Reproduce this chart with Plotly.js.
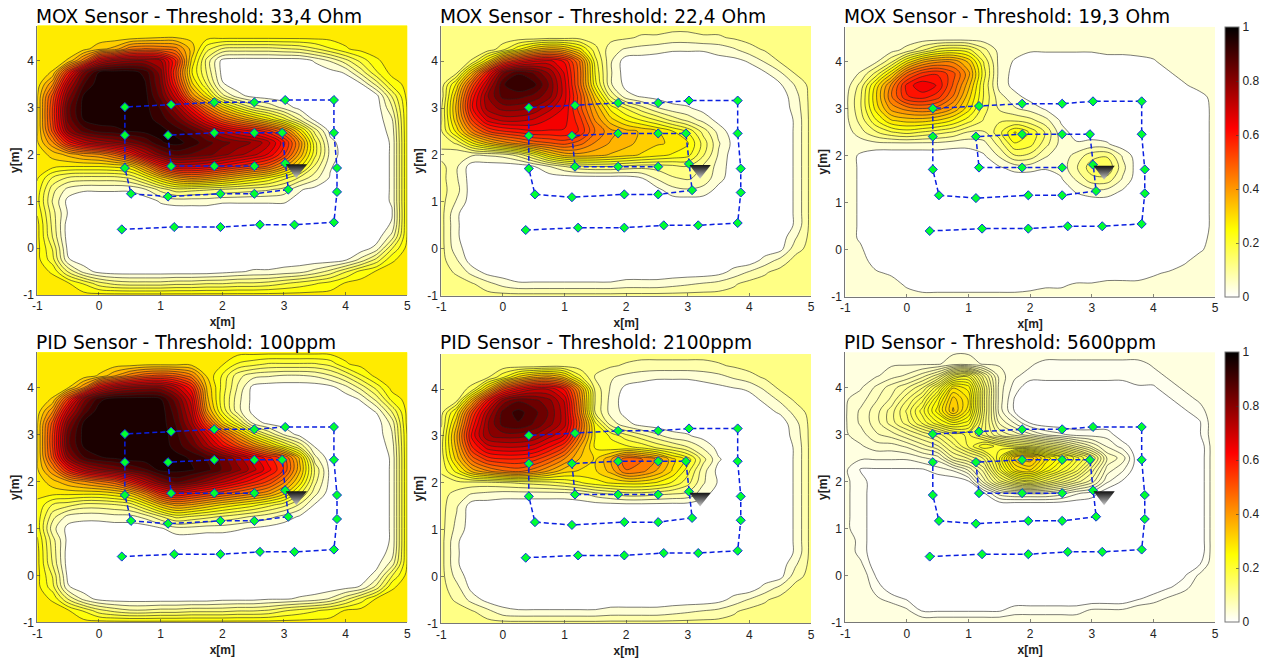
<!DOCTYPE html>
<html><head><meta charset="utf-8">
<script src="https://cdn.plot.ly/plotly-3.0.1.min.js"></script>
<style>html,body{margin:0;padding:0;background:#fff}</style></head>
<body><div id="chart" style="width:1266px;height:662px"></div>
<script>
// grid coordinates in metres
const xGrid = [-1,-.75,-.5,-.25,0,.25,.5,.75,1,1.25,1.5,1.75,2,2.25,2.5,2.75,3,3.25,3.5,3.75,4,4.25,4.5,4.75,5];
const yGridTopDown = [4.75,4.5,4.25,4,3.75,3.5,3.25,3,2.75,2.5,2.25,2,1.75,1.5,1.25,1,.75,.5,.25,0,-.25,-.5,-.75,-1];
// normalised concentration x100, rows from y=4.75 down to y=-1
const moxA = [
[28,28,28,28,28,28,28,28,28,28,28,28,28,28,28,28,28,28,28,28,28,28,28,28,28],
[28,28,28,28,28,28,28,29,30,30,29,28,28,28,28,28,28,28,28,28,28,28,28,28,28],
[28,28,28,29,33,36,45,47,46,44,33,20,14,13,13,13,14,15,18,22,26,28,28,28,28],
[28,28,31,45,68,75,78,78,75,58,30,13,1,0,0,0,0,0,3,7,13,20,26,28,28],
[28,31,58,82,95,97,97,93,80,54,27,14,1,0,0,0,0,0,0,1,3,12,22,28,28],
[28,42,72,90,97,98,98,95,82,58,32,18,3,0,0,0,0,0,0,0,0,2,12,24,28],
[30,52,80,95,98,98,98,96,85,68,42,28,12,4,1,0,0,0,0,0,0,0,1,15,28],
[30,55,85,96,98,98,98,96,90,78,62,45,32,22,14,10,5,1,0,0,0,0,0,10,27],
[30,55,84,95,97,97,97,96,93,86,75,62,50,42,35,28,20,10,1,0,0,0,0,6,27],
[30,52,78,88,92,93,95,96,96,93,88,80,72,66,62,56,46,30,13,1,0,0,0,4,27],
[30,42,60,70,75,78,82,87,94,96,93,88,84,81,78,72,60,42,20,4,0,0,0,3,27],
[28,32,36,40,42,48,58,72,82,88,86,84,80,76,72,66,55,38,20,5,0,0,0,3,27],
[27,28,27,27,27,28,30,42,58,68,68,66,62,58,54,50,40,28,14,3,0,0,0,3,27],
[27,18,14,13,13,13,15,22,32,40,44,42,38,34,30,26,20,14,8,2,0,0,0,3,27],
[25,12,5,3,3,3,3,6,12,17,16,15,14,13,12,11,9,3,1,0,0,0,0,3,27],
[24,10,1,0,0,0,0,0,3,4,4,4,3,3,3,3,3,1,0,0,0,0,0,3,27],
[26,12,2,0,0,0,0,0,0,0,0,0,0,0,0,0,0,0,0,0,0,0,0,2,27],
[28,13,0,0,0,0,0,0,0,0,0,0,0,0,0,0,0,0,0,0,0,0,0,3,27],
[28,14,0,0,0,0,0,0,0,0,0,0,0,0,0,0,0,0,0,0,0,0,0,8,27],
[28,18,1,0,0,0,0,0,0,0,0,0,0,0,0,0,0,0,0,0,0,0,4,18,28],
[28,20,3,0,0,0,0,0,0,0,0,0,0,0,0,0,0,0,0,0,2,8,16,26,28],
[28,26,14,5,1,0,0,0,0,0,0,0,1,2,3,3,4,5,8,12,18,24,27,28,28],
[28,28,27,22,16,13,12,12,12,13,13,14,14,15,15,16,18,20,22,24,27,28,28,28,28],
[28,28,28,28,28,28,28,28,28,28,28,28,28,28,28,28,28,28,28,28,28,28,28,28,28]];
const moxB = [
[12,12,12,12,12,12,12,12,12,12,12,12,12,12,12,12,12,12,12,12,12,12,12,12,12],
[12,12,12,12,12,12,12,13,13,13,12,12,11,10,10,9,9,10,10,11,12,12,12,12,12],
[12,12,12,12,17,26,34,38,36,28,16,8,6,5,4,3,3,3,4,6,9,11,12,12,12],
[12,12,15,30,50,60,66,68,62,46,20,7,0,0,0,0,0,0,1,1,3,7,11,12,12],
[12,14,36,60,82,90,86,78,66,48,22,7,0,0,0,0,0,0,0,0,0,2,6,11,12],
[12,28,52,72,90,94,92,82,68,48,24,7,1,0,0,0,0,0,0,0,0,0,2,7,12],
[12,34,60,78,88,88,85,80,68,52,32,14,4,2,1,0,0,0,0,0,0,0,0,5,12],
[14,36,62,76,80,80,78,72,66,52,38,25,18,12,7,4,3,1,0,0,0,0,0,4,12],
[14,34,55,68,72,72,70,66,64,56,42,32,26,22,18,13,9,5,1,0,0,0,0,3,12],
[14,28,44,54,58,60,62,62,62,58,46,40,36,34,31,27,22,13,5,0,0,0,0,3,12],
[12,15,26,34,40,44,48,50,52,48,42,38,36,33,31,30,27,17,7,1,0,0,0,3,12],
[9,7,7,7,8,12,20,30,36,37,36,34,32,30,28,26,24,15,6,0,0,0,0,3,12],
[12,7,0,0,0,0,2,6,10,13,14,14,13,12,12,13,14,10,5,0,0,0,0,3,12],
[12,7,0,0,0,0,0,0,0,0,0,0,0,2,7,10,11,9,4,0,0,0,0,3,12],
[12,8,0,0,0,0,0,0,0,0,0,0,0,0,1,5,6,5,1,0,0,0,0,3,12],
[12,6,0,0,0,0,0,0,0,0,0,0,0,0,0,0,0,0,0,0,0,0,0,3,12],
[12,3,0,0,0,0,0,0,0,0,0,0,0,0,0,0,0,0,0,0,0,0,0,3,12],
[12,3,0,0,0,0,0,0,0,0,0,0,0,0,0,0,0,0,0,0,0,0,0,3,12],
[12,3,0,0,0,0,0,0,0,0,0,0,0,0,0,0,0,0,0,0,0,0,0,6,12],
[12,4,0,0,0,0,0,0,0,0,0,0,0,0,0,0,0,0,0,0,0,0,1,9,12],
[12,7,0,0,0,0,0,0,0,0,0,0,0,0,0,0,0,0,0,0,0,4,8,12,12],
[12,10,5,1,0,0,0,0,0,0,0,0,0,0,0,0,0,0,1,4,7,10,12,12,12],
[12,12,11,8,5,3,3,3,3,3,3,3,4,4,4,5,6,7,8,10,12,12,12,12,12],
[12,12,12,12,12,12,12,12,12,12,12,12,12,12,12,12,12,12,12,12,12,12,12,12,12]];
const moxC = [
[4,4,4,4,4,4,4,4,4,4,4,4,4,4,4,4,4,4,4,4,4,4,4,4,4],
[4,4,4,4,4,4,4,4,4,4,4,4,4,4,4,4,4,4,4,4,4,4,4,4,4],
[4,4,4,5,8,14,20,22,20,12,5,4,3,3,3,3,3,4,4,4,4,4,4,4,4],
[4,4,6,14,28,38,42,42,34,18,5,2,0,0,0,0,0,0,0,1,2,4,4,4,4],
[4,7,16,30,48,56,58,52,40,20,5,1,0,0,0,0,0,0,0,0,0,2,4,4,4],
[4,12,28,44,60,66,62,50,36,18,5,1,0,0,0,0,0,0,0,0,0,0,2,4,4],
[5,14,30,46,58,60,56,46,32,18,8,4,1,0,0,0,0,0,0,0,0,0,0,1,4],
[5,14,28,40,44,46,44,38,28,16,10,7,5,2,0,0,0,0,0,0,0,0,0,0,4],
[5,12,22,30,32,32,30,26,20,14,14,14,12,8,2,0,0,0,0,0,0,0,0,0,4],
[4,9,14,18,20,18,16,14,10,10,17,27,22,14,4,1,0,0,0,0,0,0,0,0,4],
[4,4,5,5,5,5,5,4,4,5,12,22,20,12,5,3,4,3,0,0,0,0,0,0,4],
[4,2,0,0,0,0,0,0,0,2,7,14,13,7,4,8,13,14,6,0,0,0,0,0,4],
[4,2,0,0,0,0,0,0,0,0,2,4,4,3,4,10,17,18,8,0,0,0,0,0,4],
[4,2,0,0,0,0,0,0,0,0,0,0,0,0,2,7,13,13,6,0,0,0,0,0,4],
[4,2,0,0,0,0,0,0,0,0,0,0,0,0,0,3,5,5,2,0,0,0,0,0,4],
[4,2,0,0,0,0,0,0,0,0,0,0,0,0,0,0,0,0,0,0,0,0,0,0,4],
[4,2,0,0,0,0,0,0,0,0,0,0,0,0,0,0,0,0,0,0,0,0,0,0,4],
[4,2,0,0,0,0,0,0,0,0,0,0,0,0,0,0,0,0,0,0,0,0,0,0,4],
[4,2,0,0,0,0,0,0,0,0,0,0,0,0,0,0,0,0,0,0,0,0,0,1,4],
[4,3,0,0,0,0,0,0,0,0,0,0,0,0,0,0,0,0,0,0,0,0,0,2,4],
[4,4,1,0,0,0,0,0,0,0,0,0,0,0,0,0,0,0,0,0,0,0,2,4,4],
[4,4,3,2,0,0,0,0,0,0,0,0,0,0,0,0,0,0,0,0,2,3,4,4,4],
[4,4,4,4,2,0,0,0,0,0,0,0,1,2,2,3,3,4,4,4,4,4,4,4,4],
[4,4,4,4,4,4,4,4,4,4,4,4,4,4,4,4,4,4,4,4,4,4,4,4,4]];
const pidA = [
[28,28,28,28,28,28,28,28,28,28,28,28,28,28,28,28,28,28,28,28,28,28,28,28,28],
[28,28,28,28,28,28,28,29,29,29,29,28,27,22,20,18,18,18,18,20,26,28,28,28,28],
[28,28,28,28,31,38,45,50,52,50,44,30,22,12,8,7,6,6,7,10,15,22,28,28,28],
[28,28,30,42,65,74,78,80,80,72,60,34,21,10,1,0,0,0,0,1,5,12,20,28,28],
[28,31,55,80,93,97,97,97,95,84,68,36,20,8,1,0,0,0,0,0,0,3,12,24,28],
[28,42,70,88,97,98,98,98,97,88,72,40,22,8,1,0,0,0,0,0,0,0,3,15,28],
[30,52,80,95,98,98,98,98,97,90,76,52,32,20,5,1,0,0,0,0,0,0,0,8,28],
[30,55,85,96,98,98,98,98,97,92,82,68,52,38,24,14,6,1,0,0,0,0,0,6,27],
[30,55,85,95,97,98,98,98,97,93,87,76,64,54,44,34,24,14,2,0,0,0,0,4,27],
[30,52,78,90,94,95,97,97,97,96,94,90,84,76,68,60,52,34,8,0,0,0,0,3,27],
[30,42,60,72,78,82,86,90,96,96,95,92,86,80,72,64,54,36,14,1,0,0,0,3,27],
[28,33,38,42,46,50,60,72,82,88,84,78,72,66,60,54,44,30,12,1,0,0,0,3,27],
[27,28,28,28,28,30,34,44,58,64,60,56,52,48,44,40,32,20,8,0,0,0,0,3,27],
[26,18,16,13,13,14,16,24,34,40,38,34,30,27,24,20,16,10,2,0,0,0,0,3,27],
[25,12,5,4,4,5,5,8,14,20,18,16,14,12,10,8,5,2,0,0,0,0,0,3,27],
[25,8,1,0,0,0,0,0,2,5,5,4,4,3,2,1,0,0,0,0,0,0,0,3,27],
[27,12,1,0,0,0,0,0,0,0,0,0,0,0,0,0,0,0,0,0,0,0,0,3,27],
[28,13,0,0,0,0,0,0,0,0,0,0,0,0,0,0,0,0,0,0,0,0,0,4,27],
[28,14,0,0,0,0,0,0,0,0,0,0,0,0,0,0,0,0,0,0,0,0,1,8,27],
[28,18,1,0,0,0,0,0,0,0,0,0,0,0,0,0,0,0,0,0,0,0,4,18,28],
[28,20,3,0,0,0,0,0,0,0,0,0,0,0,0,0,0,0,0,0,1,3,12,26,28],
[28,26,14,5,1,0,0,0,0,0,0,0,1,1,1,2,2,3,4,7,13,20,27,28,28],
[28,28,27,22,16,13,11,11,12,12,13,13,13,14,14,15,18,20,22,24,27,28,28,28,28],
[28,28,28,28,28,28,28,28,28,28,28,28,28,28,28,28,28,28,28,28,28,28,28,28,28]];
const pidB = [
[12,12,12,12,12,12,12,12,12,12,12,12,12,12,12,12,12,12,12,12,12,12,12,12,12],
[12,12,12,12,12,12,12,13,13,12,12,11,10,9,9,9,9,9,10,11,12,12,12,12,12],
[12,12,12,14,22,32,38,40,34,20,10,7,5,4,3,3,3,4,5,7,9,11,12,12,12],
[12,12,16,34,54,64,70,70,62,40,13,6,1,0,0,0,0,0,1,2,3,7,11,12,12],
[12,14,38,62,80,86,84,80,70,44,14,5,0,0,0,0,0,0,0,0,1,3,7,11,12],
[13,28,54,74,88,92,88,82,72,46,14,5,1,0,0,0,0,0,0,0,0,1,3,8,12],
[14,34,60,78,88,90,86,80,72,50,24,9,4,1,0,0,0,0,0,0,0,0,0,5,12],
[16,38,64,78,80,80,78,72,66,46,26,22,16,12,8,4,3,1,0,0,0,0,0,4,12],
[17,36,58,68,70,70,68,62,54,38,26,24,24,22,18,15,11,6,1,0,0,0,0,3,12],
[16,32,48,56,58,58,56,50,42,34,30,38,50,47,42,32,25,12,3,0,0,0,0,3,12],
[15,24,36,42,46,48,44,38,32,30,30,36,46,44,38,30,20,8,1,0,0,0,0,3,12],
[13,13,13,13,14,15,16,17,19,22,25,27,28,28,26,22,16,7,2,0,0,0,0,3,12],
[12,9,6,5,4,4,4,4,4,5,8,10,12,12,11,10,9,4,0,0,0,0,0,3,12],
[12,7,0,0,0,0,0,0,0,0,0,0,0,0,0,0,0,0,0,0,0,0,0,3,12],
[12,6,0,0,0,0,0,0,0,0,0,0,0,0,0,0,0,0,0,0,0,0,0,3,12],
[12,5,0,0,0,0,0,0,0,0,0,0,0,0,0,0,0,0,0,0,0,0,0,3,12],
[12,3,0,0,0,0,0,0,0,0,0,0,0,0,0,0,0,0,0,0,0,0,0,3,12],
[12,3,0,0,0,0,0,0,0,0,0,0,0,0,0,0,0,0,0,0,0,0,0,3,12],
[12,3,0,0,0,0,0,0,0,0,0,0,0,0,0,0,0,0,0,0,0,0,0,6,12],
[12,5,0,0,0,0,0,0,0,0,0,0,0,0,0,0,0,0,0,0,0,0,1,9,12],
[12,8,1,0,0,0,0,0,0,0,0,0,0,0,0,0,0,0,0,0,0,4,8,12,12],
[12,10,5,1,0,0,0,0,0,0,0,0,0,0,0,0,0,0,1,4,7,10,12,12,12],
[12,12,11,8,4,3,3,3,3,3,3,4,4,4,4,5,6,7,8,10,12,12,12,12,12],
[12,12,12,12,12,12,12,12,12,12,12,12,12,12,12,12,12,12,12,12,12,12,12,12,12]];
const pidC = [
[4,4,4,4,4,4,4,4,4,4,4,4,4,4,4,4,4,4,4,4,4,4,4,4,4],
[4,4,4,4,4,4,4,5,5,4,4,4,3,2,2,2,2,2,2,2,3,4,4,4,4],
[4,4,4,5,6,8,11,18,20,12,5,3,2,2,2,2,2,2,2,2,2,3,3,4,4],
[4,4,6,8,10,13,19,28,26,15,5,2,0,0,0,0,0,0,0,1,1,2,3,4,4],
[4,5,7,9,13,17,24,32,28,15,5,1,0,0,0,0,0,0,0,0,0,1,2,3,4],
[4,6,8,11,15,20,26,33,27,15,5,1,0,0,0,0,0,0,0,0,0,0,1,2,4],
[4,6,8,11,14,18,22,25,23,14,7,4,1,0,0,0,0,0,0,0,0,0,0,1,4],
[4,5,7,8,10,12,14,17,18,14,10,8,6,4,3,2,2,2,0,0,0,0,0,1,4],
[4,4,5,5,6,8,10,14,18,22,20,18,17,15,13,10,7,4,2,0,0,0,0,0,4],
[3,3,3,3,3,4,5,10,12,15,22,32,34,28,24,20,15,7,5,0,0,0,0,0,4],
[3,1,1,1,1,1,2,3,6,11,20,28,30,25,21,17,11,5,3,0,0,0,0,0,4],
[3,2,0,0,0,0,0,0,1,8,14,18,20,17,14,11,8,3,1,0,0,0,0,0,4],
[3,2,0,0,0,0,0,0,0,1,5,6,6,6,5,3,2,0,0,0,0,0,0,0,4],
[3,2,0,0,0,0,0,0,0,0,0,0,0,0,0,0,0,0,0,0,0,0,0,0,4],
[3,2,0,0,0,0,0,0,0,0,0,0,0,0,0,0,0,0,0,0,0,0,0,0,4],
[3,2,0,0,0,0,0,0,0,0,0,0,0,0,0,0,0,0,0,0,0,0,0,0,4],
[4,2,0,0,0,0,0,0,0,0,0,0,0,0,0,0,0,0,0,0,0,0,0,0,4],
[4,2,0,0,0,0,0,0,0,0,0,0,0,0,0,0,0,0,0,0,0,0,0,0,4],
[4,3,0,0,0,0,0,0,0,0,0,0,0,0,0,0,0,0,0,0,0,0,0,1,4],
[4,4,1,0,0,0,0,0,0,0,0,0,0,0,0,0,0,0,0,0,0,0,1,3,4],
[4,4,2,0,0,0,0,0,0,0,0,0,0,0,0,0,0,0,0,0,0,1,2,4,4],
[4,4,3,2,1,0,0,0,0,0,0,0,0,0,0,0,0,0,0,1,2,3,4,4,4],
[4,4,4,4,3,1,1,1,1,1,1,2,2,2,2,2,3,3,3,4,4,4,4,4,4],
[4,4,4,4,4,4,4,4,4,4,4,4,4,4,4,4,4,4,4,4,4,4,4,4,4]];
// robot path
const pathX = [.37,1.22,1.97,2.61,3.17,3.81,3.86,3.86,3.81,3.81,3.02,2.52,1.87,1.17,.42,.42,.42,.52,1.12,1.97,2.52,3.07,3.02,2.97,2.52,1.87,1.12,1.17,1.87,2.52];
const pathY = [.40,.45,.45,.50,.50,.55,1.20,1.71,2.46,3.16,3.16,3.11,3.11,3.06,3.01,2.41,1.71,1.16,1.10,1.16,1.16,1.25,1.81,2.46,2.46,2.46,2.41,1.75,1.75,1.75];
const sourceX = [3.2], sourceY = [1.69];
const titles = ['MOX Sensor - Threshold: 33,4 Ohm','MOX Sensor - Threshold: 22,4 Ohm','MOX Sensor - Threshold: 19,3 Ohm','PID Sensor - Threshold: 100ppm','PID Sensor - Threshold: 2100ppm','PID Sensor - Threshold: 5600ppm'];
const grids = [moxA,moxB,moxC,pidA,pidB,pidC];
const xTicks=[-1,0,1,2,3,4,5], xTickText=['-1','0','1','2','3','4','5'];
const yTicks=[-1,0,1,2,3,4], yTickText=['-1','0','1','2','3','4'];
const barTicks=[0,.2,.4,.6,.8,1], barTickText=['0','0.2','0.4','0.6','0.8','1'];
const hot=[[0,'#ffffff'],[.25,'#ffff00'],[.625,'#ff0000'],[1,'#000000']];
// pixel boxes: left,right,top,bottom
const boxes=[[37.3,407.3,25.5,295],[441.3,811,26,295.7],[845.3,1215,26.7,296.7],[37.3,407.3,352.3,622.3],[441.3,811,354,623.3],[845.3,1215,352.3,622.3]];
const titleTops=[27,27,27,353,353,353];
const W=1266,H=662,FONT='Liberation Sans, Arial, sans-serif';
grids.forEach((g,i)=>g.forEach((r,j)=>{if(r.length!==25)throw new Error('row '+i+'/'+j+' '+r.length)}));
const yGrid=yGridTopDown.slice().reverse();
const traces=[],layout={width:W,height:H,margin:{l:0,r:0,t:0,b:0},paper_bgcolor:'#fff',plot_bgcolor:'#fff',showlegend:false,annotations:[]};
grids.forEach((g,i)=>{
  const n=i+1,xa='x'+n,ya='y'+n,b=boxes[i];
  const fine=(i===5);
  traces.push({type:'contour',x:xGrid,y:yGrid,z:g.slice().reverse().map(r=>r.map(v=>v/100)),xaxis:xa,yaxis:ya,
    autocontour:false,contours:{coloring:'fill',start:fine?.012:.025,end:.985,size:fine?.015:.04,showlines:true},
    line:{color:'#222',width:.6,smoothing:1},colorscale:hot,zmin:0,zmax:1,showscale:false,hoverinfo:'skip'});
  traces.push({type:'scatter',mode:'lines+markers',x:pathX,y:pathY,xaxis:xa,yaxis:ya,
    line:{color:'#0a1fe0',width:1.5,dash:'5px,3px'},marker:{symbol:'diamond',size:7,color:'#00ff30',line:{color:'#1030e0',width:1}},hoverinfo:'skip'});
  traces.push({type:'scatter',mode:'markers',x:sourceX,y:sourceY,xaxis:xa,yaxis:ya,
    marker:{symbol:'triangle-down',size:18.5,color:'#111',gradient:{type:'vertical',color:'#c8c8c8'},line:{width:0}},hoverinfo:'skip'});
  const axCommon={showgrid:false,zeroline:false,showline:true,linecolor:'#777',linewidth:1,ticks:'inside',ticklen:3,tickcolor:'#333',tickwidth:.6,tickfont:{family:FONT,size:12,color:'#222'}};
  layout['xaxis'+n]=Object.assign({},axCommon,{domain:[b[0]/W,b[1]/W],anchor:ya,range:[-1,5],tickvals:xTicks,ticktext:xTickText,
    title:{text:'x[m]',font:{family:FONT,size:12,color:'#222',weight:'bold'},standoff:5}});
  layout['yaxis'+n]=Object.assign({},axCommon,{domain:[1-b[3]/H,1-b[2]/H],anchor:xa,range:[-1,4.75],tickvals:yTicks,ticktext:yTickText,
    title:{text:'y[m]',font:{family:FONT,size:12,color:'#222',weight:'bold'},standoff:1}});
  layout.annotations.push({xref:'paper',yref:'paper',x:b[0]/W,y:1-titleTops[i]/H,xanchor:'left',yanchor:'bottom',xshift:-3,yshift:-2,showarrow:false,align:'left',text:titles[i],font:{family:'DejaVu Sans',size:18.6,color:'#000'}});
});
[[27,297],[352,622]].forEach(([t,bm])=>{
  traces.push({type:'scatter',mode:'markers',x:[0,0],y:[0,0],xaxis:'x1',yaxis:'y1',hoverinfo:'skip',
    marker:{opacity:0,size:1,color:[0,1],cmin:0,cmax:1,colorscale:hot,showscale:true,
      colorbar:{thicknessmode:'pixels',thickness:14,lenmode:'fraction',len:(bm-t)/H,x:1225/W,xanchor:'left',xpad:0,y:1-bm/H,yanchor:'bottom',ypad:0,
        outlinecolor:'#777',outlinewidth:1,borderwidth:0,tickvals:barTicks,ticktext:barTickText,ticks:'inside',ticklen:3,tickcolor:'#333',tickwidth:.6,
        tickfont:{family:FONT,size:12,color:'#222'}}}});
});
Plotly.newPlot('chart',traces,layout,{staticPlot:true,displayModeBar:false});
</script></body></html>
